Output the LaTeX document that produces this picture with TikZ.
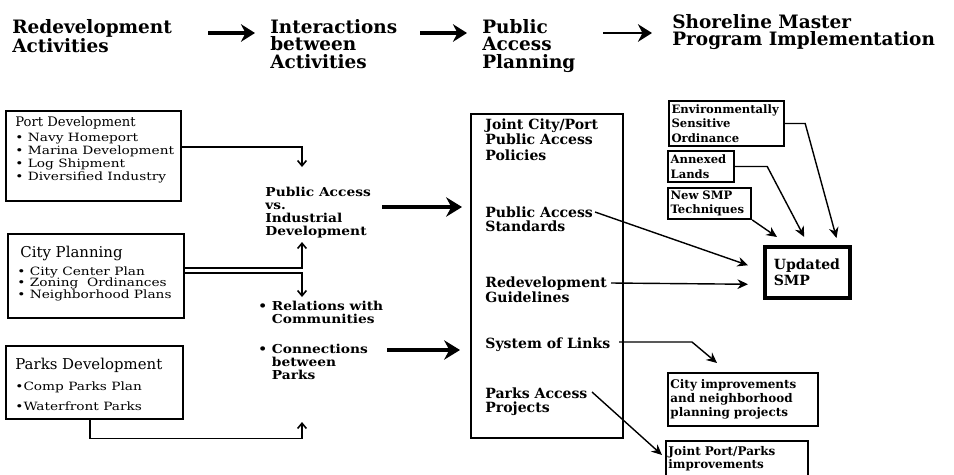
\documentclass[tikz,border=0pt]{standalone}
\usepackage{fontspec}
\setmainfont{DejaVu Serif}
\usetikzlibrary{arrows.meta,calc}

\newcommand{\fsz}[2]{\fontsize{#1}{#2}\selectfont}

\begin{document}
\begin{tikzpicture}[x=0.02cm, y=-0.02cm,
    head/.style = {anchor=north west, inner sep=0pt, align=left, font=\fsz{10.5}{10}\bfseries},
    boxhead/.style = {anchor=north west, inner sep=0pt, font=\fsz{8.5}{9}},
    items/.style = {anchor=north west, inner sep=0pt, align=left, font=\fsz{6.5}{5.8}, xscale=1.2, transform shape},
    inter/.style = {anchor=north west, inner sep=0pt, align=left, font=\fsz{7}{7.4}\bfseries, xscale=1.12, transform shape},
    plan/.style = {anchor=north west, inner sep=0pt, align=left, font=\fsz{8}{9}\bfseries},
    actbox/.style = {draw, line width=0.9pt, anchor=north west, inner sep=0pt},
    smp/.style = {draw, line width=1.1pt, anchor=north west, inner sep=1.5pt, align=left, font=\fsz{6.6}{8.3}\bfseries},
    hdarrow/.style = {line width=2.4pt, -{Stealth[length=8pt,width=10pt]}},
    bigarrow/.style = {line width=2.8pt, -{Stealth[length=9pt,width=11pt]}},
    feed/.style = {line width=0.9pt, -{Straight Barb[length=3pt,width=5pt]}},
    link/.style = {line width=0.8pt, -{Stealth[length=6pt,width=5.5pt]}}]

\useasboundingbox (0,0) rectangle (954,474);
\clip (0,0) rectangle (954,474);

% column headings
\node[head] (hRedev) at (12,19) {Redevelopment\\Activities};
\node[head] (hInter) at (270,19) {Interactions\\between\\Activities};
\node[head] (hPublic) at (482,19) {Public\\Access\\Planning};
\node[head] (hShore) at (672,14) {Shoreline Master\\Program Implementation};
\draw[hdarrow] ($(hInter.north west)+(-62,14)$) -- ($(hInter.north west)+(-15,14)$);
\draw[hdarrow] ($(hPublic.north west)+(-62,14)$) -- ($(hPublic.north west)+(-15,14)$);
\draw[hdarrow, line width=1.6pt] ($(hShore.north west)+(-69,19)$) -- ($(hShore.north west)+(-20,19)$);

% redevelopment activities
\node[actbox, minimum width=3.5cm, minimum height=1.8cm] (port) at (5,110) {};
\node[boxhead, font=\fsz{7.5}{8}] (portHead) at (15,116) {Port Development};
\node[items] (portList) at (15,133) {• Navy Homeport\\• Marina Development\\• Log Shipment\\• Diversified Industry};

\node[actbox, minimum width=3.52cm, minimum height=1.68cm] (city) at (7,233) {};
\node[boxhead] (cityHead) at (20,246) {City Planning};
\node[items, font=\fsz{6.5}{6.6}] (cityList) at (17,266) {• City Center Plan\\• Zoning~~Ordinances\\• Neighborhood Plans};

\node[actbox, minimum width=3.54cm, minimum height=1.46cm] (parks) at (5,345) {};
\node[boxhead] (parksHead) at (15,358) {Parks Development};
\node[items, font=\fsz{6.5}{11.4}] (parksList) at (15,381) {•Comp Parks Plan\\•Waterfront Parks};

% interactions
\node[inter] (vsText) at (265,187) {Public Access\\vs.\\Industrial\\Development};
\node[inter] (relText) at (258,301) {• Relations with\\\hphantom{• }Communities};
\node[inter] (conText) at (258,344) {• Connections\\\hphantom{• }between\\\hphantom{• }Parks};

\draw[feed] ($(port.north east)+(0,37)$) -| ($(vsText.north west)+(37,-20)$);
\draw[feed] ($(city.north east)+(0,35)$) -| ($(vsText.north west)+(37,55)$);
\draw[feed] ($(city.north east)+(0,40)$) -| ($(relText.north west)+(44,-4)$);
\draw[feed] ($(parks.south west)+(85,0)$) -- ++(0,19) -| ($(conText.north west)+(44,78)$);

% public access planning
\node[actbox, minimum width=3.04cm, minimum height=6.48cm] (pBox) at (470,113) {};
\node[plan] (pPolicies) at (485,118) {Joint City/Port\\Public Access\\Policies};
\node[plan, font=\fsz{8}{8}\bfseries] (pStandards) at (485,206) {Public Access\\Standards};
\node[plan, font=\fsz{8}{7.5}\bfseries] (pGuidelines) at (485,276) {Redevelopment\\Guidelines};
\node[plan] (pLinks) at (485,337) {System of Links};
\node[plan, font=\fsz{8}{8}\bfseries] (pProjects) at (485,387) {Parks Access\\Projects};

\draw[bigarrow] ($(pBox.north west)+(-88,94)$) -- ($(pBox.north west)+(-8,94)$);
\draw[bigarrow] ($(pBox.north west)+(-83,237)$) -- ($(pBox.north west)+(-10,237)$);

% shoreline master program
\node[smp, text width=2.2cm, minimum height=0.9cm] (env) at (668,100) {Environmentally\\Sensitive\\Ordinance};
\node[smp, text width=1.22cm, minimum height=0.62cm] (annexed) at (667,150) {Annexed\\Lands};
\node[smp, text width=1.56cm, minimum height=0.62cm] (newSMP) at (667,187) {New SMP\\Techniques};
\node[smp, line width=2pt, inner xsep=0.18cm, text width=1.34cm, minimum height=1.02cm, font=\fsz{8}{9}\bfseries] (upd) at (763,245) {Updated\\SMP};
\node[smp, line width=0.9pt, text width=2.9cm, minimum height=1.06cm, font=\fsz{6.8}{7.8}\bfseries] (cityImp) at (667,372) {City improvements\\and neighborhood\\planning projects};
\node[smp, line width=0.9pt, text width=2.74cm, minimum height=0.72cm, font=\fsz{6.8}{7.8}\bfseries] (jointPP) at (665,440) {Joint Port/Parks\\improvements};

\draw[link] (env.east) -- ++(20,0) -- ($(upd.north east)+(-15,-7)$);
\draw[link] (annexed.east) -- ++(32,0) -- ($(upd.north)+(-3,-8)$);
\draw[link] (newSMP.south east) -- ($(upd.north west)+(14,-8)$);
\draw[link] ($(pStandards.north west)+(110,6)$) -- ($(upd.west)+(-15,-7)$);
\draw[link] ($(pGuidelines.north west)+(126,7)$) -- ($(upd.west)+(-15,12)$);
\draw[link] ($(pLinks.north west)+(134,5)$) -- ($(cityImp.north west)+(25,-30)$) -- ($(cityImp.north west)+(50,-9)$);
\draw[link] ($(pProjects.north west)+(107,5)$) -- ($(jointPP.north west)+(-3,15)$);
\end{tikzpicture}
\end{document}
